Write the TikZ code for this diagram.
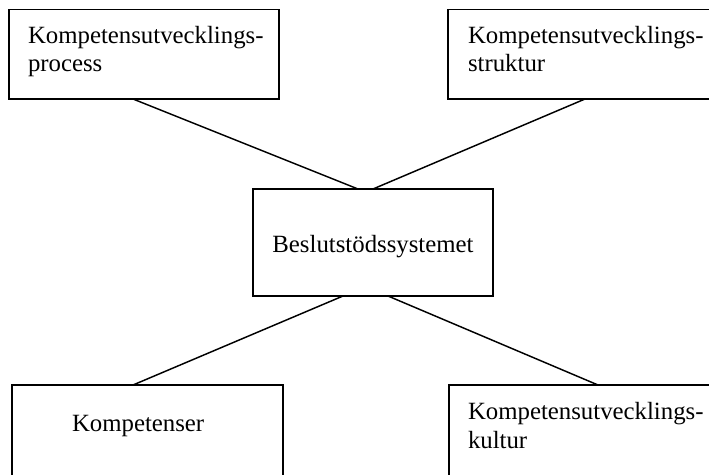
\documentclass[tikz,border=0pt]{standalone}
\usepackage{fontspec}
\setmainfont{Liberation Serif}
\usetikzlibrary{calc}
\begin{document}
\begin{tikzpicture}[x=0.75pt, y=-0.75pt,
  box/.style={draw, line width=1.1pt, inner sep=0pt, outer sep=0pt, anchor=north west},
  label text/.style={inner sep=0pt, outer sep=0pt, align=left,
    font=\fontsize{18.6pt}{21.6pt}\selectfont},
  link/.style={line width=1.1pt}]
  \useasboundingbox (0,0) rectangle (709,474);
  \clip (0,0) rectangle (709,474);

  % boxes (the right and bottom ones run past the edges)
  \node[box, minimum width=270*0.75pt, minimum height=89.5*0.75pt] (tl) at (9,9.5) {};
  \node[box, minimum width=270*0.75pt, minimum height=89.5*0.75pt] (tr) at (448,9.5) {};
  \node[box, minimum width=240*0.75pt, minimum height=107*0.75pt] (mid) at (253,189) {};
  \node[box, minimum width=271*0.75pt, minimum height=100*0.75pt] (bl) at (12,385) {};
  \node[box, minimum width=270*0.75pt, minimum height=100*0.75pt] (br) at (449,385) {};

  % texts (two-line texts are placed by the baseline of their last line)
  \node[label text, anchor=base west] (tltext) at (28,72) {Kompetensutvecklings-\\process};
  \node[label text, anchor=base west] (trtext) at (468,72) {Kompetensutvecklings-\\struktur};
  \node[label text, anchor=base] (midtext) at (373,252) {Beslutstödssystemet};
  \node[label text, anchor=base west] (bltext) at (72,431) {Kompetenser};
  \node[label text, anchor=base west] (brtext) at (468,448) {Kompetensutvecklings-\\kultur};

  % connectors to the central box
  \draw[link] ($(tl.south west)+(124,0)$) -- ($(mid.north west)+(105,0)$);
  \draw[link] ($(tr.south west)+(137,0)$) -- ($(mid.north west)+(120,0)$);
  \draw[link] ($(mid.south west)+(90,0)$) -- ($(bl.north west)+(121,0)$);
  \draw[link] ($(mid.south west)+(135,0)$) -- ($(br.north west)+(149,0)$);
\end{tikzpicture}
\end{document}
